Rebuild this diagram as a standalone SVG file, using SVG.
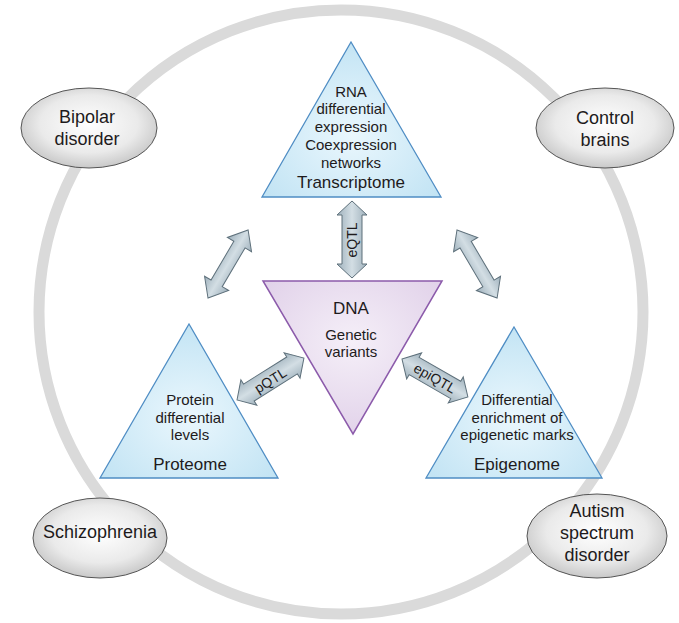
<svg xmlns="http://www.w3.org/2000/svg" width="679" height="623" viewBox="0 0 679 623">
<defs>
<radialGradient id="gEll" cx="50%" cy="45%" r="60%">
<stop offset="0" stop-color="#ffffff"/><stop offset="0.6" stop-color="#eaeaea"/><stop offset="1" stop-color="#c0c0c0"/>
</radialGradient>
<radialGradient id="gBlue" cx="50%" cy="60%" r="60%">
<stop offset="0" stop-color="#eaf7fd"/><stop offset="1" stop-color="#c3e4f4"/>
</radialGradient>
<radialGradient id="gPurple" cx="50%" cy="40%" r="60%">
<stop offset="0" stop-color="#f5eff8"/><stop offset="1" stop-color="#e2d3ea"/>
</radialGradient>
<linearGradient id="gArrow" x1="0" y1="0" x2="0" y2="1">
<stop offset="0" stop-color="#9fb1bc"/><stop offset="0.5" stop-color="#d3dee4"/><stop offset="1" stop-color="#9fb1bc"/>
</linearGradient>
<style>
text{font-family:"Liberation Sans",Arial,sans-serif;fill:#1e1b1c;text-anchor:middle}
.ell{fill:url(#gEll);stroke:#555;stroke-width:1}
.blue{fill:url(#gBlue);stroke:#4f8dc4;stroke-width:1.3}
.dna{fill:url(#gPurple);stroke:#8c5bab;stroke-width:1.5}
.arr{fill:url(#gArrow);stroke:#5e707b;stroke-width:1}
.t15{font-size:15px}
.t17{font-size:17px}
.t18{font-size:18px}
.q{font-size:14px}
</style>
</defs>
<rect width="679" height="623" fill="#ffffff"/>
<circle cx="341" cy="312" r="302" fill="none" stroke="#dadada" stroke-width="11"/>

<g id="connectors">
<g transform="translate(352,201) rotate(90)">
<polygon class="arr" points="0,0 14,-15 14,-10 63,-10 63,-15 77,0 63,15 63,10 14,10 14,15"/>
</g>
<text class="q" transform="translate(357,240) rotate(-90)">eQTL</text>
<g transform="translate(237,400) rotate(-32.1)">
<polygon class="arr" points="0,0 14,-15 14,-10 65,-10 65,-15 79,0 65,15 65,10 14,10 14,15"/>
</g>
<text class="q" transform="translate(273,384.5) rotate(-32.1)">pQTL</text>
<g transform="translate(402,359) rotate(29.9)">
<polygon class="arr" points="0,0 14,-15 14,-10 62,-10 62,-15 76,0 62,15 62,10 14,10 14,15"/>
</g>
<text class="q" transform="translate(432.5,382.5) rotate(29.9)">epiQTL</text>
<g transform="translate(208,298) rotate(-59.5)">
<polygon class="arr" points="0,0 17,-14 17,-6.5 62,-6.5 62,-14 79,0 62,14 62,6.5 17,6.5 17,14"/>
</g>
<g transform="translate(457,230) rotate(59.5)">
<polygon class="arr" points="0,0 17,-14 17,-6.5 62,-6.5 62,-14 79,0 62,14 62,6.5 17,6.5 17,14"/>
</g>
</g>

<g id="bipolar">
<ellipse class="ell" cx="89" cy="128" rx="68" ry="40"/>
<text class="t18" x="87" y="123">Bipolar</text>
<text class="t18" x="87" y="145">disorder</text>
</g>
<g id="control">
<ellipse class="ell" cx="605" cy="128" rx="69" ry="40"/>
<text class="t18" x="605" y="124">Control</text>
<text class="t18" x="605" y="146">brains</text>
</g>
<g id="schizophrenia">
<ellipse class="ell" cx="100" cy="538" rx="67" ry="40"/>
<text class="t18" x="100" y="538">Schizophrenia</text>
</g>
<g id="autism">
<ellipse class="ell" cx="597" cy="536" rx="70" ry="42"/>
<text class="t18" x="597" y="517">Autism</text>
<text class="t18" x="597" y="539">spectrum</text>
<text class="t18" x="597" y="561">disorder</text>
</g>

<g id="transcriptome">
<polygon class="blue" points="351,42 441,197 262,197"/>
<text class="t15" x="351" y="96.5">RNA</text>
<text class="t15" x="351" y="114">differential</text>
<text class="t15" x="351" y="132">expression</text>
<text class="t15" x="351" y="150">Coexpression</text>
<text class="t15" x="351" y="168">networks</text>
<text class="t17" x="351" y="188">Transcriptome</text>
</g>

<g id="dna">
<polygon class="dna" points="263,281 442,281 353,434"/>
<text class="t17" x="351" y="314">DNA</text>
<text class="t15" x="351" y="340">Genetic</text>
<text class="t15" x="351" y="357">variants</text>
</g>

<g id="proteome">
<polygon class="blue" points="189,324 278,478 100,478"/>
<text class="t15" x="190" y="405">Protein</text>
<text class="t15" x="190" y="422.5">differential</text>
<text class="t15" x="190" y="440">levels</text>
<text class="t17" x="190" y="470">Proteome</text>
</g>

<g id="epigenome">
<polygon class="blue" points="514,327 602,478 426,478"/>
<text class="t15" x="517" y="405">Differential</text>
<text class="t15" x="517" y="423">enrichment of</text>
<text class="t15" x="517" y="440">epigenetic marks</text>
<text class="t17" x="517" y="470">Epigenome</text>
</g>
</svg>
